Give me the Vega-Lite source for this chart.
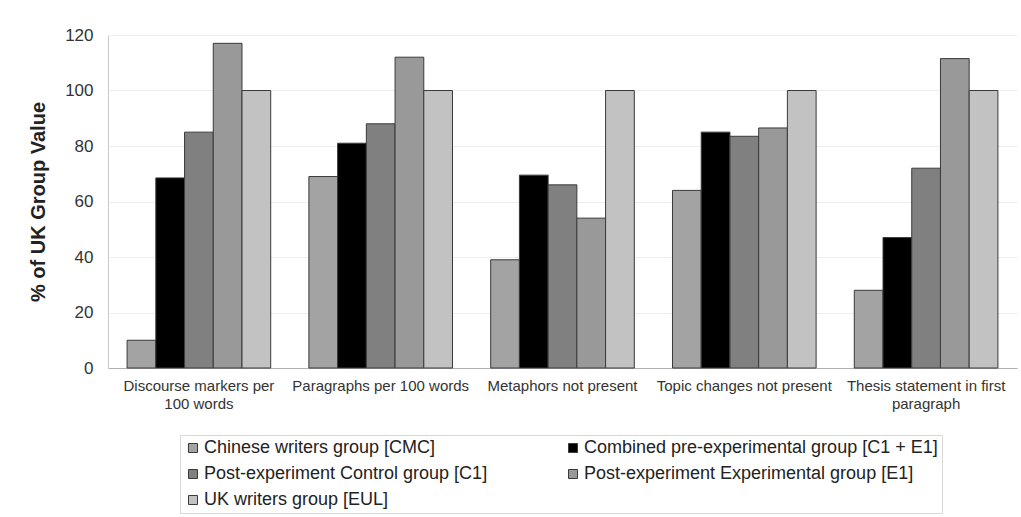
{
  "$schema": "https://vega.github.io/schema/vega-lite/v6.json",
  "autosize": {"type": "none"},
  "width": 909,
  "height": 333,
  "padding": {"left": 108, "top": 35, "right": 4, "bottom": 149},
  "background": "white",
  "config": {
    "font": "Liberation Sans",
    "view": {"stroke": null},
    "axis": {"labelFont": "Liberation Sans", "titleFont": "Liberation Sans"}
  },
  "data": {
    "values": [
      {"feature": "Discourse markers per 100 words", "group": "Chinese writers group [CMC]", "value": 10},
      {"feature": "Discourse markers per 100 words", "group": "Combined pre-experimental group [C1 + E1]", "value": 68.5},
      {"feature": "Discourse markers per 100 words", "group": "Post-experiment Control group [C1]", "value": 85},
      {"feature": "Discourse markers per 100 words", "group": "Post-experiment Experimental group [E1]", "value": 117},
      {"feature": "Discourse markers per 100 words", "group": "UK writers group [EUL]", "value": 100},
      {"feature": "Paragraphs per 100 words", "group": "Chinese writers group [CMC]", "value": 69},
      {"feature": "Paragraphs per 100 words", "group": "Combined pre-experimental group [C1 + E1]", "value": 81},
      {"feature": "Paragraphs per 100 words", "group": "Post-experiment Control group [C1]", "value": 88},
      {"feature": "Paragraphs per 100 words", "group": "Post-experiment Experimental group [E1]", "value": 112},
      {"feature": "Paragraphs per 100 words", "group": "UK writers group [EUL]", "value": 100},
      {"feature": "Metaphors not present", "group": "Chinese writers group [CMC]", "value": 39},
      {"feature": "Metaphors not present", "group": "Combined pre-experimental group [C1 + E1]", "value": 69.5},
      {"feature": "Metaphors not present", "group": "Post-experiment Control group [C1]", "value": 66},
      {"feature": "Metaphors not present", "group": "Post-experiment Experimental group [E1]", "value": 54},
      {"feature": "Metaphors not present", "group": "UK writers group [EUL]", "value": 100},
      {"feature": "Topic changes not present", "group": "Chinese writers group [CMC]", "value": 64},
      {"feature": "Topic changes not present", "group": "Combined pre-experimental group [C1 + E1]", "value": 85},
      {"feature": "Topic changes not present", "group": "Post-experiment Control group [C1]", "value": 83.5},
      {"feature": "Topic changes not present", "group": "Post-experiment Experimental group [E1]", "value": 86.5},
      {"feature": "Topic changes not present", "group": "UK writers group [EUL]", "value": 100},
      {"feature": "Thesis statement in first paragraph", "group": "Chinese writers group [CMC]", "value": 28},
      {"feature": "Thesis statement in first paragraph", "group": "Combined pre-experimental group [C1 + E1]", "value": 47},
      {"feature": "Thesis statement in first paragraph", "group": "Post-experiment Control group [C1]", "value": 72},
      {"feature": "Thesis statement in first paragraph", "group": "Post-experiment Experimental group [E1]", "value": 111.5},
      {"feature": "Thesis statement in first paragraph", "group": "UK writers group [EUL]", "value": 100}
    ]
  },
  "mark": {"type": "bar", "stroke": "#3a3a3a", "strokeWidth": 1},
  "encoding": {
    "x": {
      "field": "feature",
      "type": "nominal",
      "sort": null,
      "scale": {"paddingInner": 0.21, "paddingOuter": 0.105},
      "axis": {
        "title": null,
        "labelAngle": 0,
        "labelFontSize": 15,
        "labelColor": "#333333",
        "labelPadding": 10,
        "ticks": false,
        "domainColor": "#b0b0b0",
        "labelExpr": "datum.value == 'Discourse markers per 100 words' ? ['Discourse markers per', '100 words'] : datum.value == 'Thesis statement in first paragraph' ? ['Thesis statement in first', 'paragraph'] : datum.value",
        "labelLineHeight": 18,
        "labelLimit": 300
      }
    },
    "xOffset": {"field": "group", "type": "nominal", "sort": null, "scale": {"paddingInner": 0, "paddingOuter": 0}},
    "y": {
      "field": "value",
      "type": "quantitative",
      "scale": {"domain": [0, 120]},
      "axis": {
        "title": "% of UK Group Value",
        "titleFontSize": 20,
        "titleFontWeight": "bold",
        "titleColor": "#222222",
        "titlePadding": 16,
        "values": [0, 20, 40, 60, 80, 100, 120],
        "labelFontSize": 17,
        "labelColor": "#333333",
        "labelPadding": 15,
        "ticks": false,
        "domainColor": "#c8c8c8",
        "gridColor": "#efefef"
      }
    },
    "fill": {
      "field": "group",
      "type": "nominal",
      "sort": null,
      "scale": {
        "domain": ["Chinese writers group [CMC]", "Combined pre-experimental group [C1 + E1]", "Post-experiment Control group [C1]", "Post-experiment Experimental group [E1]", "UK writers group [EUL]"],
        "range": ["#a3a3a3", "#000000", "#808080", "#999999", "#c2c2c2"]
      },
      "legend": {
        "title": null,
        "orient": "none",
        "legendX": 72,
        "legendY": 400,
        "direction": "horizontal",
        "columns": 2,
        "columnPadding": 76,
        "rowPadding": 8,
        "symbolType": "square",
        "symbolSize": 81,
        "symbolStrokeColor": "#3a3a3a",
        "symbolStrokeWidth": 1,
        "symbolOffset": 0,
        "labelOffset": 2,
        "labelFontSize": 18,
        "labelColor": "#222222",
        "labelLimit": 400,
        "strokeColor": "#d8d8d8",
        "padding": 4
      }
    }
  }
}
